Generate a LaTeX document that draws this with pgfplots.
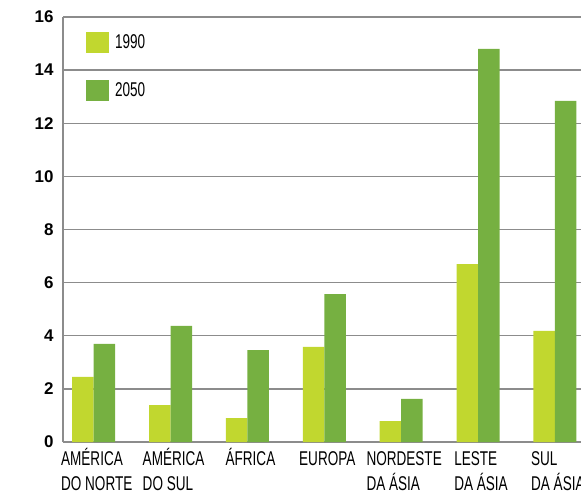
\documentclass[border=0pt]{standalone}
\usepackage{pgfplots}
\pgfplotsset{compat=1.18}
\usepackage{fontspec}
\setmainfont{Liberation Sans}
\newfontfamily\condfont[FakeStretch=0.68]{Liberation Sans}
\definecolor{lightg}{RGB}{193,215,47}
\definecolor{darkg}{RGB}{118,176,65}
\definecolor{gridg}{RGB}{140,140,140}
\begin{document}
\begin{tikzpicture}
\path[use as bounding box, clip] (-63bp,-51bp) rectangle (518bp,442bp);
\begin{axis}[
  at={(0,0)}, anchor=south west,
  scale only axis, width=518bp, height=425bp,
  ybar, bar width=21.5bp,
  xmin=-0.40, xmax=6.34, ymin=0, ymax=16,
  ytick={0,2,...,16},
  xtick={0,...,6},
  xticklabels={\vphantom{Á}AMÉRICA\\DO NORTE, \vphantom{Á}AMÉRICA\\DO SUL, \vphantom{Á}ÁFRICA, \vphantom{Á}EUROPA, \vphantom{Á}NORDESTE\\DA ÁSIA, \vphantom{Á}LESTE\\DA ÁSIA, \vphantom{Á}SUL\\DA ÁSIA},
  axis lines=left,
  axis line style={-, draw=gridg, line width=1.5bp},
  major tick length=0pt,
  ymajorgrids, grid style={gridg, line width=1.3bp},
  /pgf/number format/assume math mode=true,
  y tick label style={font=\fontsize{17}{17}\selectfont\bfseries, xshift=-6bp},
  x tick label style={font=\condfont\fontsize{20}{24.5}\selectfont, align=left, anchor=north, yshift=-3bp, xshift=3bp},
  legend style={at={(0.0444,0.9647)}, anchor=north west, draw=none, fill=none,
    inner sep=0pt, outer sep=0pt, row sep=27bp,
    font=\condfont\fontsize{20}{21}\selectfont,
    nodes={inner sep=0pt, outer sep=0pt, anchor=west}},
  legend cell align=left,
  legend image code/.code={\fill[#1] (0bp,-10.5bp) rectangle (23bp,10.5bp); \path (29bp,0) circle (0.1pt);},
]
\addplot[draw=none, fill=lightg, bar shift=-10.75bp] coordinates {(0,2.45) (1,1.39) (2,0.90) (3,3.58) (4,0.79) (5,6.70) (6,4.18)};
\addplot[draw=none, fill=darkg, bar shift=10.75bp] coordinates {(0,3.69) (1,4.37) (2,3.46) (3,5.57) (4,1.62) (5,14.80) (6,12.84)};
\legend{1990,2050}
\end{axis}
\end{tikzpicture}
\end{document}
